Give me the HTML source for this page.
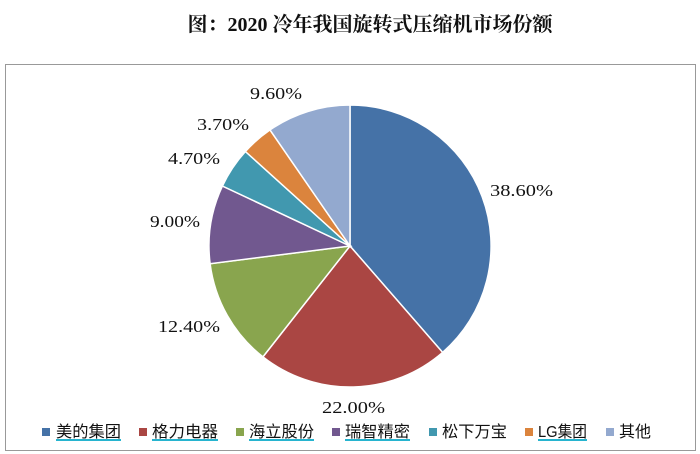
<!DOCTYPE html>
<html><head><meta charset="utf-8"><style>
body{margin:0;width:700px;height:454px;background:#fff;overflow:hidden;position:relative;font-family:"Liberation Serif","Noto Serif CJK SC",serif}
.t{position:absolute;top:8px;left:0;width:740px;text-align:center;font-weight:bold;font-size:20px;color:#111}
.box{position:absolute;left:5px;top:64px;width:689px;height:385px;border:1px solid #999}
</style></head><body>
<div class="t">图：2020 冷年我国旋转式压缩机市场份额</div>
<div class="box"></div>
<svg width="700" height="454" style="position:absolute;left:0;top:0" font-family="Liberation Serif, serif" font-size="17" fill="#111">
<g stroke="#fff" stroke-width="1.5">
<path d="M350,246 L350,105 A141,141 0 0 1 442.6,352.4Z" fill="#4572a7"/>
<path d="M350,246 L442.6,352.4 A141,141 0 0 1 262.9,356.9Z" fill="#aa4643"/>
<path d="M350,246 L262.9,356.9 A141,141 0 0 1 210.1,263.7Z" fill="#89a54e"/>
<path d="M350,246 L210.1,263.7 A141,141 0 0 1 222.4,186Z" fill="#71588f"/>
<path d="M350,246 L222.4,186 A141,141 0 0 1 245.4,151.5Z" fill="#4198af"/>
<path d="M350,246 L245.4,151.5 A141,141 0 0 1 270,129.9Z" fill="#db843d"/>
<path d="M350,246 L270,129.9 A141,141 0 0 1 350,105Z" fill="#93a9cf"/>
</g>
<g lengthAdjust="spacingAndGlyphs">
<text x="490" y="196" textLength="63" lengthAdjust="spacingAndGlyphs">38.60%</text>
<text x="322" y="413" textLength="63" lengthAdjust="spacingAndGlyphs">22.00%</text>
<text x="158" y="332" textLength="62" lengthAdjust="spacingAndGlyphs">12.40%</text>
<text x="150" y="227" textLength="50" lengthAdjust="spacingAndGlyphs">9.00%</text>
<text x="168" y="164" textLength="52" lengthAdjust="spacingAndGlyphs">4.70%</text>
<text x="197" y="130" textLength="52" lengthAdjust="spacingAndGlyphs">3.70%</text>
<text x="250" y="99" textLength="52" lengthAdjust="spacingAndGlyphs">9.60%</text>
</g>
<g font-family="Liberation Sans, Noto Sans CJK SC, sans-serif" font-size="16">
<rect x="42" y="428" width="8" height="8" fill="#4572a7"/><text x="56" y="437" textLength="65" lengthAdjust="spacingAndGlyphs">美的集团</text><rect x="56" y="439" width="65" height="2" fill="#27b4cf"/>
<rect x="139" y="428" width="8" height="8" fill="#aa4643"/><text x="152" y="437" textLength="66" lengthAdjust="spacingAndGlyphs">格力电器</text><rect x="152" y="439" width="66" height="2" fill="#27b4cf"/>
<rect x="236" y="428" width="8" height="8" fill="#89a54e"/><text x="249" y="437" textLength="65" lengthAdjust="spacingAndGlyphs">海立股份</text><rect x="249" y="439" width="65" height="2" fill="#27b4cf"/>
<rect x="332" y="428" width="8" height="8" fill="#71588f"/><text x="345" y="437" textLength="65" lengthAdjust="spacingAndGlyphs">瑞智精密</text><rect x="345" y="439" width="65" height="2" fill="#27b4cf"/>
<rect x="429" y="428" width="8" height="8" fill="#4198af"/><text x="442" y="437" textLength="65" lengthAdjust="spacingAndGlyphs">松下万宝</text>
<rect x="525" y="428" width="8" height="8" fill="#db843d"/><text x="538" y="437" textLength="49" lengthAdjust="spacingAndGlyphs">LG集团</text><rect x="538" y="439" width="49" height="2" fill="#27b4cf"/>
<rect x="606" y="428" width="8" height="8" fill="#93a9cf"/><text x="619" y="437" textLength="32" lengthAdjust="spacingAndGlyphs">其他</text>
</g>
</svg>
</body></html>
